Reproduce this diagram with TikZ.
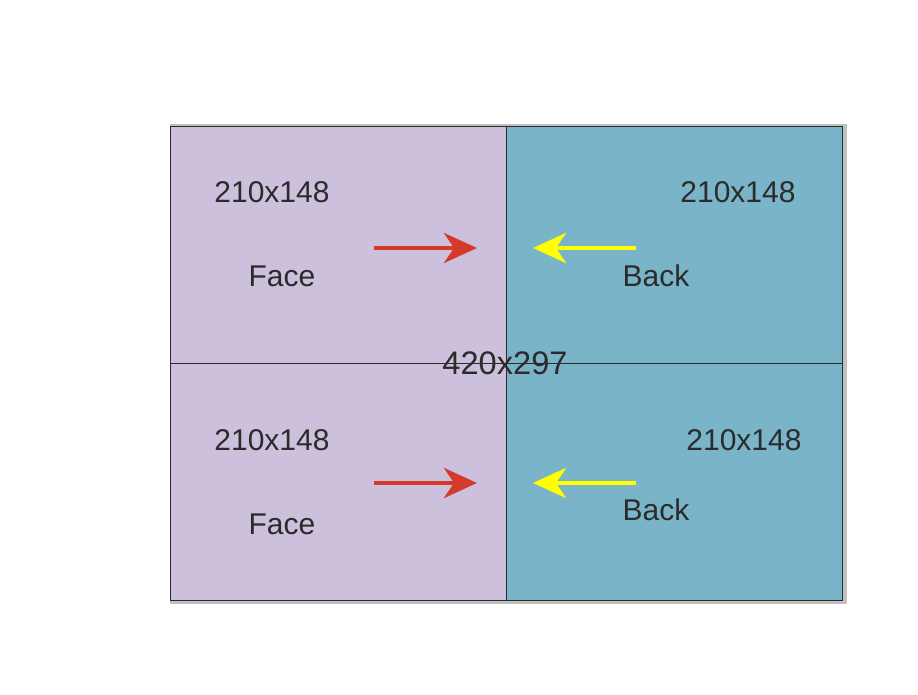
\documentclass[tikz,border=0pt]{standalone}
\usepackage{fontspec}
\setmainfont{Liberation Sans}
\usetikzlibrary{arrows.meta}

\definecolor{faceviolet}{HTML}{CDC0DD}
\definecolor{backteal}{HTML}{7AB4C8}
\definecolor{arrowred}{HTML}{D43A2A}
\definecolor{arrowyellow}{HTML}{FFFF00}
\definecolor{inkgray}{HTML}{2B2B2B}
\definecolor{shadowgray}{HTML}{C0C0C0}

\tikzset{
  sizelabel/.style={text=inkgray, font=\fontsize{30}{36}\selectfont, inner sep=0pt},
  pagearrow/.style={line width=4.5pt, -{Stealth[length=33pt, width=30pt, inset=10pt]}},
}

\begin{document}
\begin{tikzpicture}[x=1pt, y=-1pt]
      % Page size and margins
      \useasboundingbox[fill=white] (0,0) rectangle (918,694);

      % Shadow behind the sheet
      \fill[shadowgray] (170,124) rectangle (847,604);

      % The two halves of the sheet
      \fill[faceviolet] (170,126) rectangle (506,600);
      \fill[backteal] (506,126) rectangle (842,600);

      % Outline and fold lines
      \draw[inkgray, line width=0.8pt] (170,126) rectangle (842,600);
      \draw[inkgray, line width=0.8pt] (506,126) -- (506,600);
      \draw[inkgray, line width=0.8pt] (170,363) -- (842,363);

      % Labels and arrows for the upper and lower rows
      \foreach \row/\y/\fy/\by/\rx in {top/0/276/276/738, bottom/248/524/510/744} {
          \node[sizelabel] (size-left-\row) at (272, 192+\y) {210x148};
          \node[sizelabel] (size-right-\row) at (\rx, 192+\y) {210x148};
          \node[sizelabel] (face-\row) at (282, \fy) {Face};
          \node[sizelabel] (back-\row) at (656, \by) {Back};
      }

      \node[sizelabel, font=\fontsize{32.6}{38}\selectfont] (sheet) at (505,363) {420x297};

      % Red arrows point from the face side, yellow from the back side
      \foreach \row/\y in {top/248, bottom/483} {
          \coordinate (red-start-\row) at (374,\y);
          \coordinate (red-end-\row) at (477,\y);
          \coordinate (yellow-start-\row) at (636,\y);
          \coordinate (yellow-end-\row) at (533,\y);
          \draw[pagearrow, arrowred] (red-start-\row) -- (red-end-\row);
          \draw[pagearrow, arrowyellow] (yellow-start-\row) -- (yellow-end-\row);
      }
    \end{tikzpicture}
\end{document}
